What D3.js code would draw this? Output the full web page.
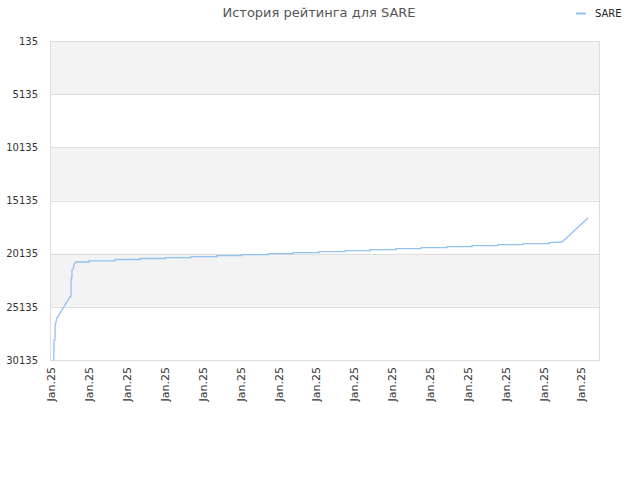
<!DOCTYPE html>
<html>
<head>
<meta charset="utf-8">
<script src="https://cdn.jsdelivr.net/npm/d3@7"></script>
<style>
  body { margin: 0; background: #fff; }
  svg { font-family: "DejaVu Sans", sans-serif; }
</style>
</head>
<body>
<svg width="640" height="480"></svg>
<script>
// rating history, x in days from start, y is the rank (lower is better)
var days = [0.14, 0.16, 0.24, 0.24, 0.37, 0.45, 1.43, 1.51, 1.51, 1.58, 1.58, 1.69, 1.77, 1.88,
            2.93, 2.93, 4.99, 4.99, 6.97, 6.97, 8.95, 8.95, 11.01, 11.01, 13.07, 13.07,
            15.06, 15.06, 17.12, 17.12, 19.1, 19.1, 21.16, 21.16, 23.22, 23.22, 25.2, 25.2,
            27.26, 27.26, 29.24, 29.24, 31.3, 31.3, 33.28, 33.28, 35.34, 35.34, 37.32, 37.32,
            39.38, 39.38, 40.41, 42.47];
var ranks = [30135, 28250, 28250, 27030, 26190, 26100, 24180, 24180, 22420, 22420, 21670, 21510, 21110, 20920,
             20920, 20805, 20805, 20683, 20683, 20589, 20589, 20504, 20504, 20410, 20410, 20316,
             20316, 20222, 20222, 20128, 20128, 20034, 20034, 19940, 19940, 19846, 19846, 19752,
             19752, 19667, 19667, 19573, 19573, 19479, 19479, 19385, 19385, 19291, 19291, 19197,
             19197, 19103, 19037, 16780];

var yTicks = [135, 5135, 10135, 15135, 20135, 25135, 30135];
var xTickDays = [0, 3, 6, 9, 12, 15, 18, 21, 24, 27, 30, 33, 36, 39, 42];
var xTickLabels = ["Jan.25", "Jan.25", "Jan.25", "Jan.25", "Jan.25", "Jan.25", "Jan.25", "Jan.25",
                   "Jan.25", "Jan.25", "Jan.25", "Jan.25", "Jan.25", "Jan.25", "Jan.25"];
var seriesName = "SARE";

var svg = d3.select("svg");
var plotLeft = 50, plotRight = 600, plotTop = 41, plotBottom = 360;

var x = d3.scaleLinear().domain([-0.16, 43.42]).range([plotLeft, plotRight]);
var y = d3.scaleLinear().domain([135, 30135]).range([plotTop, plotBottom]);

// alternating bands
var bands = d3.pairs(yTicks);
svg.append("g")
   .selectAll("rect")
   .data(bands)
   .enter()
   .append("rect")
   .attr("x", plotLeft)
   .attr("width", plotRight - plotLeft)
   .attr("y", function(d) { return y(d[0]); })
   .attr("height", function(d) { return y(d[1]) - y(d[0]); })
   .attr("fill", function(d, i) { return i % 2 === 0 ? "#f3f3f3" : "#fff"; });

// grid lines
svg.append("g")
   .selectAll("line")
   .data(yTicks)
   .enter()
   .append("line")
   .attr("x1", plotLeft).attr("x2", plotRight)
   .attr("y1", function(d) { return Math.round(y(d)) + 0.5; })
   .attr("y2", function(d) { return Math.round(y(d)) + 0.5; })
   .attr("stroke", "#dddddd");

svg.append("rect")
   .attr("x", plotLeft + 0.5).attr("y", plotTop + 0.5)
   .attr("width", plotRight - plotLeft - 1).attr("height", plotBottom - plotTop)
   .attr("fill", "none")
   .attr("stroke", "#dddddd");

// y axis labels
var yAxis = d3.axisLeft(y).tickValues(yTicks).tickFormat(d3.format("d")).tickSize(0).tickPadding(12);
var gy = svg.append("g").attr("transform", "translate(" + plotLeft + ",0)").call(yAxis);
gy.select(".domain").remove();
gy.selectAll("text").attr("font-size", 10).attr("fill", "#333").attr("font-family", "DejaVu Sans");

// x axis labels
var xAxis = d3.axisBottom(x).tickValues(xTickDays)
              .tickFormat(function(d, i) { return xTickLabels[i]; })
              .tickSize(0);
var gx = svg.append("g").attr("transform", "translate(0," + plotBottom + ")").call(xAxis);
gx.select(".domain").remove();
gx.selectAll("text")
  .attr("font-size", 11)
  .attr("fill", "#333")
  .attr("font-family", "DejaVu Sans")
  .attr("text-anchor", "end")
  .attr("transform", "rotate(-90)")
  .attr("x", -7)
  .attr("y", -1)
  .attr("dy", "0.35em");

// the line
var line = d3.line()
             .x(function(d) { return x(d[0]); })
             .y(function(d) { return y(d[1]); });

svg.append("path")
   .datum(d3.zip(days, ranks))
   .attr("d", line)
   .attr("fill", "none")
   .attr("stroke", "#92c1f2")
   .attr("stroke-width", 1.3);

// title
svg.append("text")
   .attr("x", 319).attr("y", 17)
   .attr("text-anchor", "middle")
   .attr("font-size", 13)
   .attr("fill", "#555")
   .text("История рейтинга для " + seriesName);

// legend
svg.append("line")
   .attr("x1", 576).attr("x2", 586)
   .attr("y1", 13.5).attr("y2", 13.5)
   .attr("stroke", "#92c1f2").attr("stroke-width", 2);
svg.append("text")
   .attr("x", 595).attr("y", 17)
   .attr("font-size", 10)
   .attr("fill", "#222")
   .text(seriesName);
</script>
</body>
</html>
